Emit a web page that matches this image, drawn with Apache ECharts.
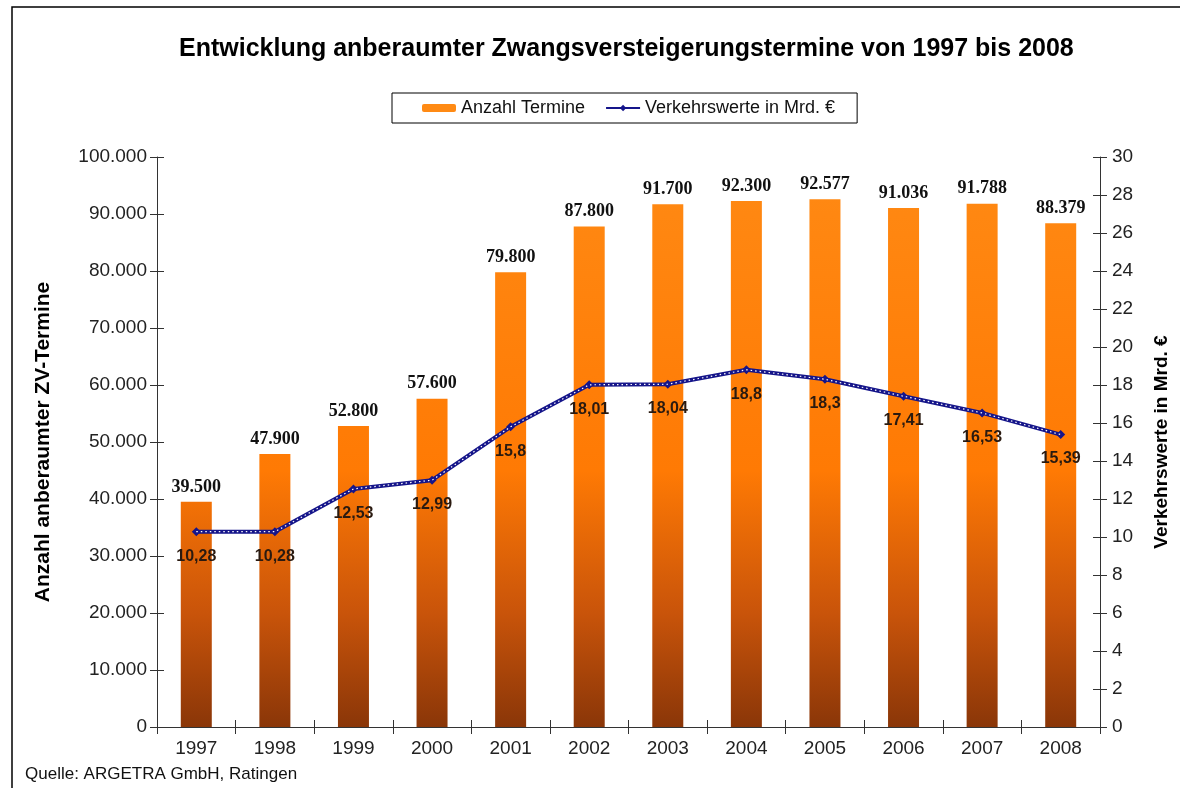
<!DOCTYPE html>
<html>
<head>
<meta charset="utf-8">
<script src="https://cdn.jsdelivr.net/npm/echarts@6/dist/echarts.min.js"></script>
<style>
  html, body { margin: 0; padding: 0; background: #fff; }
  #chart { width: 1180px; height: 788px; }
</style>
</head>
<body>
<div id="chart"></div>
<script>
// data
const years = ['1997', '1998', '1999', '2000', '2001', '2002', '2003', '2004', '2005', '2006', '2007', '2008'];
const termine = [39500, 47900, 52800, 57600, 79800, 87800, 91700, 92300, 92577, 91036, 91788, 88379];
const verkehrswerte = [10.28, 10.28, 12.53, 12.99, 15.8, 18.01, 18.04, 18.8, 18.3, 17.41, 16.53, 15.39];

const fontFamily = 'Arial, "Liberation Sans", sans-serif';
const serifFamily = '"Liberation Serif", "Times New Roman", serif';

// German number formats
const fmtThousands = v => String(v).replace(/\B(?=(\d{3})+(?!\d))/g, '.');
const fmtDecimal = v => String(v).replace('.', ',');

const chart = echarts.init(document.getElementById('chart'), null, { renderer: 'canvas' });

// gradient in pixel space so every bar darkens toward the baseline
const barGradient = new echarts.graphic.LinearGradient(0, 157, 0, 727, [
  { offset: 0, color: '#ff8a14' },
  { offset: 0.55, color: '#ff7a04' },
  { offset: 0.8, color: '#c9540a' },
  { offset: 1, color: '#8a3608' }
], true);

const axisColor = '#333';

chart.setOption({
  animation: false,
  backgroundColor: '#fff',
  title: {
    text: 'Entwicklung anberaumter Zwangsversteigerungstermine von 1997 bis 2008',
    left: 174,
    top: 32,
    textStyle: { fontFamily, fontSize: 25, fontWeight: 'bold', color: '#000' }
  },
  legend: {
    data: ['Anzahl Termine', 'Verkehrswerte in Mrd. €'],
    top: 93,
    left: 392,
    borderColor: '#000',
    borderWidth: 1,
    borderRadius: 0,
    padding: [6, 22, 6, 30],
    itemGap: 20,
    itemWidth: 34,
    itemHeight: 8,
    textStyle: { fontFamily, fontSize: 18, color: '#111' }
  },
  grid: { left: 157, right: 80, top: 157, bottom: 61, containLabel: false },
  xAxis: [{
    type: 'category',
    data: years,
    axisLine: { lineStyle: { color: axisColor } },
    axisTick: { show: true, length: 7, lineStyle: { color: axisColor } },
    axisLabel: { fontFamily, fontSize: 19, color: '#222', margin: 12 }
  }, {
    type: 'category',
    data: years,
    position: 'bottom',
    axisLine: { show: false },
    axisTick: { show: true, inside: true, length: 7, lineStyle: { color: axisColor } },
    axisLabel: { show: false }
  }],
  yAxis: [{
    type: 'value',
    min: 0, max: 100000, interval: 10000,
    name: 'Anzahl anberaumter ZV-Termine',
    nameLocation: 'middle',
    nameGap: 103,
    nameTextStyle: { fontFamily, fontSize: 21, fontWeight: 'bold', color: '#000' },
    axisLine: { show: true, lineStyle: { color: axisColor } },
    axisTick: { show: true, length: 7, lineStyle: { color: axisColor } },
    axisLabel: { fontFamily, fontSize: 19, color: '#222', margin: 10, formatter: fmtThousands },
    splitLine: { show: false }
  }, {
    type: 'value',
    min: 0, max: 30, interval: 2,
    position: 'right',
    name: 'Verkehrswerte in Mrd. €',
    nameLocation: 'middle',
    nameGap: 52,
    nameRotate: 90,
    nameTextStyle: { fontFamily, fontSize: 19, fontWeight: 'bold', color: '#000' },
    axisLine: { show: true, lineStyle: { color: axisColor } },
    axisTick: { show: true, length: 7, lineStyle: { color: axisColor } },
    axisLabel: { fontFamily, fontSize: 19, color: '#222', margin: 12 },
    splitLine: { show: false }
  }, {
    type: 'value',
    min: 0, max: 100000, interval: 10000,
    position: 'left',
    axisLine: { show: false },
    axisTick: { show: true, inside: true, length: 7, lineStyle: { color: axisColor } },
    axisLabel: { show: false },
    splitLine: { show: false }
  }, {
    type: 'value',
    min: 0, max: 30, interval: 2,
    position: 'right',
    axisLine: { show: false },
    axisTick: { show: true, inside: true, length: 7, lineStyle: { color: axisColor } },
    axisLabel: { show: false },
    splitLine: { show: false }
  }],
  series: [{
    name: 'Anzahl Termine',
    type: 'bar',
    data: termine,
    barWidth: 31,
    itemStyle: { color: barGradient },
    label: {
      show: true,
      position: 'top',
      distance: 6,
      fontFamily: serifFamily, fontSize: 18, fontWeight: 'bold', color: '#111',
      formatter: p => fmtThousands(p.value)
    }
  }, {
    name: 'Verkehrswerte in Mrd. €',
    type: 'line',
    yAxisIndex: 1,
    data: verkehrswerte,
    symbol: 'diamond',
    symbolSize: 9,
    itemStyle: { color: '#15158a' },
    lineStyle: { color: '#15158a', width: 4 },
    label: {
      show: true,
      position: 'bottom',
      distance: 12,
      fontFamily, fontSize: 16, fontWeight: 'bold', color: '#2a1a10',
      formatter: p => fmtDecimal(p.value)
    },
    z: 3
  }, {
    name: 'dots',
    type: 'line',
    yAxisIndex: 1,
    data: verkehrswerte,
    symbol: 'none',
    silent: true,
    lineStyle: { color: '#ffffff', width: 1.2, type: [1.5, 3] },
    z: 4
  }],
  graphic: [{
    type: 'rect',
    shape: { x: 12, y: 7, width: 1200, height: 800 },
    style: { fill: 'none', stroke: '#000', lineWidth: 1.5 },
    silent: true
  }, {
    type: 'text',
    left: 25,
    top: 766,
    style: { text: 'Quelle: ARGETRA GmbH, Ratingen', font: '17px ' + fontFamily, fill: '#111' }
  }]
});
</script>
</body>
</html>
